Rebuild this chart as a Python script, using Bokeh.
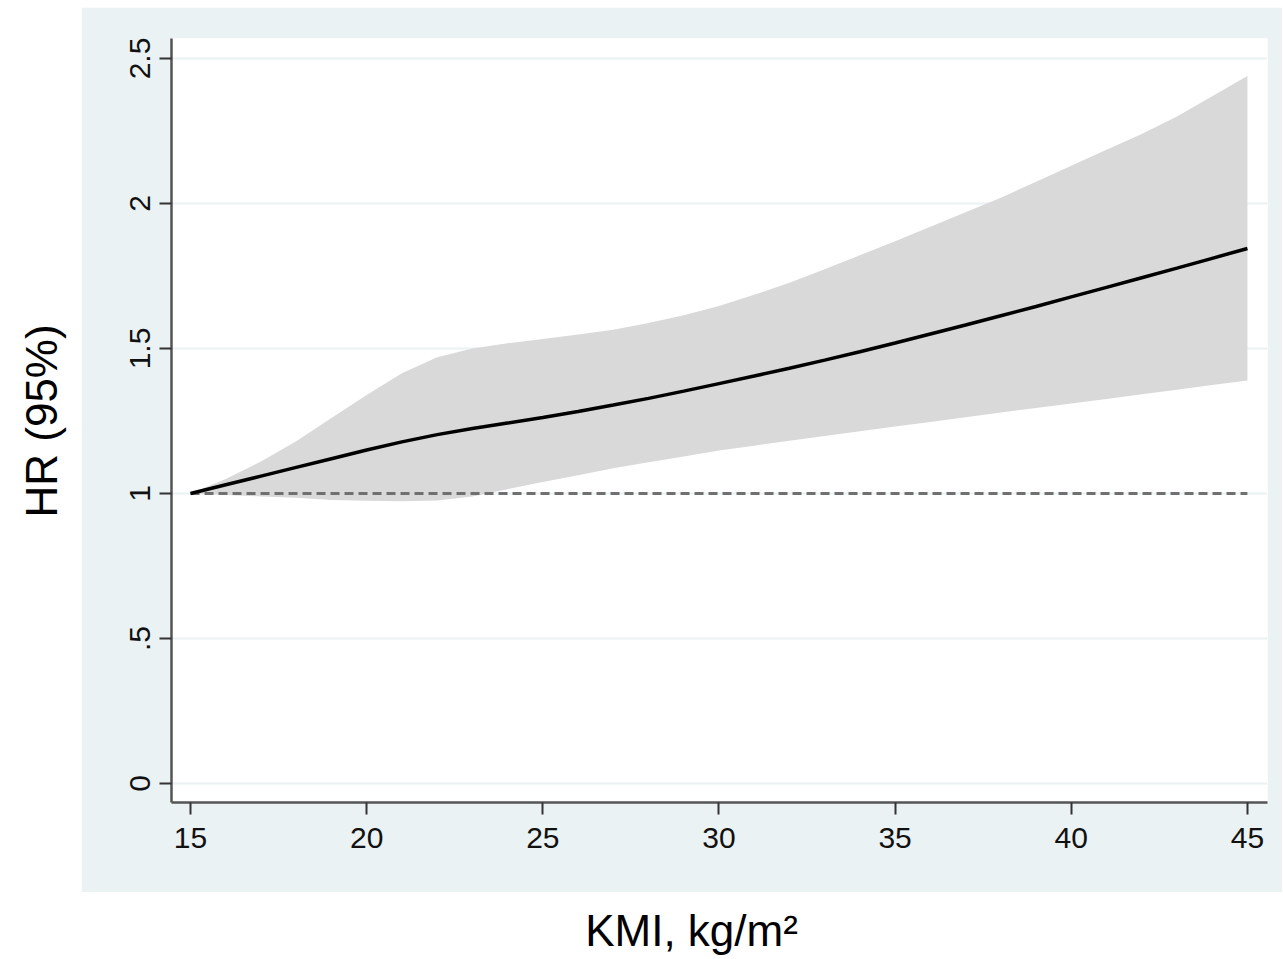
import math
from bokeh.plotting import figure
from bokeh.models import Range1d, FixedTicker, Label, Spacer
from bokeh.layouts import column, row
from bokeh.embed import file_html
from bokeh.resources import INLINE

# ---- data ----
bmi = [15, 16, 17, 18, 19, 20, 21, 22, 23, 24, 25, 26, 27, 28, 29, 30,
       31, 32, 33, 34, 35, 36, 37, 38, 39, 40, 41, 42, 43, 44, 45]
hr = [1.0, 1.03, 1.06, 1.09, 1.12, 1.15, 1.178, 1.203, 1.224, 1.243, 1.262,
      1.283, 1.305, 1.328, 1.353, 1.379, 1.405, 1.432, 1.46, 1.489, 1.519,
      1.55, 1.581, 1.613, 1.645, 1.678, 1.711, 1.744, 1.777, 1.811, 1.845]
upper = [1.0, 1.05, 1.11, 1.18, 1.26, 1.34, 1.415, 1.47, 1.5, 1.518, 1.533,
         1.548, 1.565, 1.588, 1.615, 1.647, 1.685, 1.727, 1.773, 1.822, 1.87,
         1.92, 1.97, 2.02, 2.075, 2.13, 2.185, 2.24, 2.3, 2.37, 2.44]
lower = [1.0, 0.995, 0.99, 0.985, 0.978, 0.975, 0.973, 0.976, 0.99, 1.015,
         1.04, 1.063, 1.087, 1.108, 1.128, 1.148, 1.165, 1.182, 1.198, 1.215,
         1.231, 1.247, 1.263, 1.279, 1.295, 1.31, 1.326, 1.342, 1.358, 1.374, 1.39]
ref_x = [15, 45]
ref_y = [1, 1]

x_ticks = [15, 20, 25, 30, 35, 40, 45]
y_ticks = [0, 0.5, 1, 1.5, 2, 2.5]
y_tick_labels = ["0", ".5", "1", "1.5", "2", "2.5"]

x_title = "KMI, kg/m\u00b2"
y_title = "HR (95%)"

PANEL = "#eaf2f3"
FONT = "Liberation Sans"

# ---- main plot ----
p = figure(width=1201, height=885, output_backend="svg", toolbar_location=None,
           x_range=Range1d(14.46, 45.57), y_range=Range1d(-0.0655, 2.569),
           min_border_left=90, min_border_right=15, min_border_top=31,
           min_border_bottom=90)
p.border_fill_color = PANEL
p.background_fill_color = "white"
p.outline_line_color = None

p.varea(x=bmi, y1=lower, y2=upper, fill_color="#d9d9d9", fill_alpha=1.0)
p.line(x=ref_x, y=ref_y, line_color="#707070", line_width=3, line_dash="9 5")
p.line(x=bmi, y=hr, line_color="black", line_width=3.5)

p.xgrid.visible = False
p.ygrid.ticker = FixedTicker(ticks=y_ticks)
p.ygrid.grid_line_color = PANEL
p.ygrid.grid_line_width = 2

p.xaxis.ticker = FixedTicker(ticks=x_ticks)
p.yaxis.ticker = FixedTicker(ticks=y_ticks)
p.yaxis.major_label_overrides = {t: s for t, s in zip(y_ticks, y_tick_labels)}
p.yaxis.major_label_orientation = "vertical"

for ax in (p.xaxis, p.yaxis):
    ax.axis_line_color = "#555555"
    ax.axis_line_width = 2.5
    ax.major_tick_line_color = "#333333"
    ax.major_tick_line_width = 2
    ax.major_tick_out = 12
    ax.major_tick_in = 0
    ax.minor_tick_out = 0
    ax.minor_tick_in = 0
    ax.major_label_text_font = FONT
    ax.major_label_text_font_size = "30px"
    ax.major_label_text_color = "#111111"
p.xaxis.major_label_standoff = 13
p.yaxis.major_label_standoff = 9

# ---- y title ----
ylab = figure(width=81, height=885, output_backend="svg", toolbar_location=None,
              x_range=Range1d(0, 81), y_range=Range1d(0, 885),
              x_axis_type=None, y_axis_type=None, min_border=0)
ylab.outline_line_color = None
ylab.grid.visible = False
ylab.border_fill_color = "white"
ylab.background_fill_color = "white"
ylab.add_layout(Label(x=41, y=442, text=y_title, angle=math.pi / 2,
                      text_align="center", text_baseline="middle",
                      text_font=FONT, text_font_size="44px", text_color="black"))

# ---- x title ----
xlab = figure(width=1282, height=66, output_backend="svg", toolbar_location=None,
              x_range=Range1d(0, 1282), y_range=Range1d(0, 66),
              x_axis_type=None, y_axis_type=None, min_border=0)
xlab.outline_line_color = None
xlab.grid.visible = False
xlab.border_fill_color = "white"
xlab.background_fill_color = "white"
xlab.add_layout(Label(x=691, y=28, text=x_title,
                      text_align="center", text_baseline="middle",
                      text_font=FONT, text_font_size="44px", text_color="black"))

layout = column(Spacer(width=1282, height=7), row(ylab, p), xlab)

with open("out.html", "w") as f:
    f.write(file_html(layout, INLINE))
